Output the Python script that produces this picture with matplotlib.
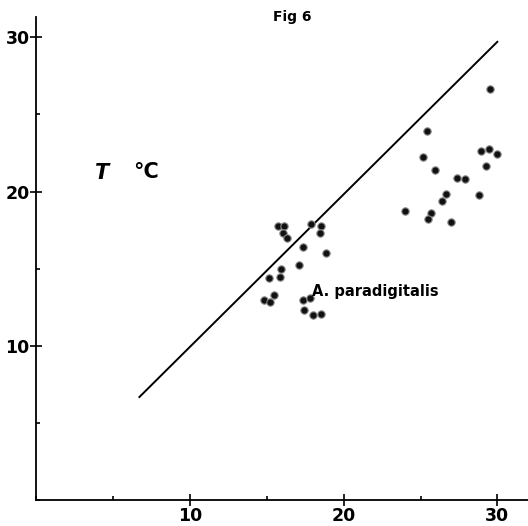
# Fig 6 - A. paradigitalis, body temperature vs ambient temperature

import matplotlib
matplotlib.use('Agg')
import matplotlib.pyplot as plt
from matplotlib.ticker import MultipleLocator

# data
x_vals = [15.71, 16.14, 16.04, 16.30, 17.84, 18.51, 18.47, 17.38, 18.86, 17.12,
          15.93, 15.86, 15.13, 15.45, 14.78, 15.17, 17.34, 17.82, 17.41, 17.97, 18.51,
          29.50, 25.42, 25.16, 28.91, 29.43, 29.98, 29.26, 25.96, 27.39, 27.92,
          26.63, 26.37, 28.78, 24.01, 25.70, 25.50, 26.98]
y_vals = [17.79, 17.79, 17.29, 16.97, 17.88, 17.79, 17.29, 16.43, 16.00, 15.24,
          14.96, 14.49, 14.40, 13.32, 13.00, 12.87, 13.00, 13.09, 12.33, 12.03, 12.07,
          26.65, 23.94, 22.23, 22.62, 22.77, 22.43, 21.67, 21.37, 20.89, 20.83,
          19.84, 19.37, 19.75, 18.76, 18.63, 18.24, 18.03]
line_x = [6.7, 30.0]
line_y = [6.7, 29.7]
x_ticks = [10, 20, 30]
y_ticks = [10, 20, 30]

fig = plt.figure(figsize=(5.28, 5.26), dpi=100)
ax = fig.add_axes([0.0691, 0.0485, 0.931, 0.919])

ax.plot(line_x, line_y, color='black', lw=1.4)
ax.scatter(x_vals, y_vals, s=28, facecolor='#111111', edgecolor='#888888', linewidths=0.8, zorder=3)

ax.set_xlim(0, 32.0)
ax.set_ylim(0, 31.3)
for side in ['top', 'right']:
    ax.spines[side].set_visible(False)
ax.spines['left'].set_linewidth(1.3)
ax.spines['bottom'].set_linewidth(1.3)

ax.set_xticks(x_ticks)
ax.set_yticks(y_ticks)
ax.xaxis.set_minor_locator(MultipleLocator(5))
ax.yaxis.set_minor_locator(MultipleLocator(5))
ax.tick_params(which='major', direction='inout', length=8, width=1.2, labelsize=12.5, pad=1)
ax.tick_params(which='minor', direction='in', length=3, width=1.2)
for lbl in ax.get_xticklabels() + ax.get_yticklabels():
    lbl.set_fontweight('bold')

ax.text(4.27, 21.2, 'T', fontsize=15, fontweight='bold', fontstyle='italic', ha='center', va='center')
ax.text(7.1, 21.3, '°C', fontsize=15, fontweight='bold', ha='center', va='center')
ax.text(22.05, 13.5, 'A. paradigitalis', fontsize=10.5, fontweight='bold', ha='center', va='center')
fig.text(292 / 528, 1 - 17 / 526, 'Fig 6', fontsize=10, fontweight='bold', ha='center', va='center')

fig.savefig('out.png', dpi=100)
